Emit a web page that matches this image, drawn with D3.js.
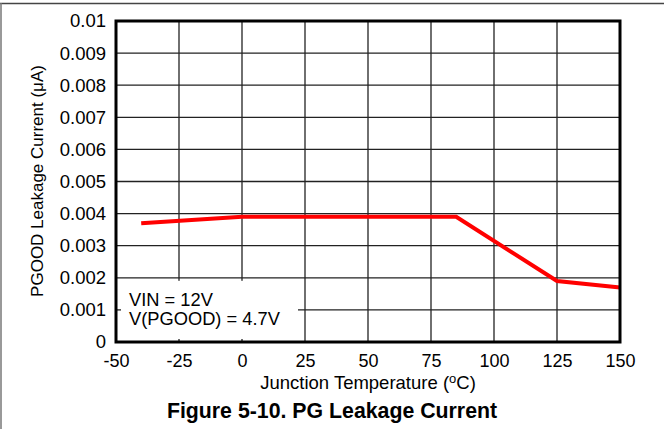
<!DOCTYPE html>
<html>
<head>
<meta charset="utf-8">
<script src="https://d3js.org/d3.v7.min.js"></script>
<style>
	body { margin: 0; padding: 0; background: #fff; }
	text { font-family: "Liberation Sans", Arial, sans-serif; fill: #000; }
	.grid line { stroke: #222; stroke-width: 1.3; }
</style>
</head>
<body>
<div id="content"></div>
<script>
// chart data
var temps = [-40, 0, 85, 125, 150];
var leakage = [0.0037, 0.0039, 0.0039, 0.0019, 0.0017];
var xTicks = [-50, -25, 0, 25, 50, 75, 100, 125, 150];
var yTicks = [0, 0.001, 0.002, 0.003, 0.004, 0.005, 0.006, 0.007, 0.008, 0.009, 0.01];
var yLabels = ['0', '0.001', '0.002', '0.003', '0.004', '0.005', '0.006', '0.007', '0.008', '0.009', '0.01'];
var notes = ['VIN = 12V', 'V(PGOOD) = 4.7V'];

var w = 664, h = 429;
var m = { left: 116, right: 620, top: 21, bottom: 342 };

var svg = d3.select('#content')
	.append('svg')
	.attr('width', w)
	.attr('height', h);

// outer frame (top and left only)
svg.append('line').attr('x1', 0).attr('y1', 3.5).attr('x2', w).attr('y2', 3.5)
	.attr('stroke', '#444').attr('stroke-width', 1.5);
svg.append('line').attr('x1', 1).attr('y1', 3).attr('x2', 1).attr('y2', h)
	.attr('stroke', '#777').attr('stroke-width', 1.5);

var x = d3.scaleLinear().domain([-50, 150]).range([m.left, m.right]);
var y = d3.scaleLinear().domain([0, 0.01]).range([m.bottom, m.top]);

// grid lines
var grid = svg.append('g').attr('class', 'grid');
grid.selectAll('.vx').data(xTicks.slice(1, -1)).enter().append('line')
	.attr('x1', d => x(d)).attr('x2', d => x(d))
	.attr('y1', m.top).attr('y2', m.bottom);
grid.selectAll('.hy').data(yTicks.slice(1, -1)).enter().append('line')
	.attr('x1', m.left).attr('x2', m.right)
	.attr('y1', d => y(d)).attr('y2', d => y(d));

// white note box over the grid, small ticks left on the edges
svg.append('rect')
	.attr('x', m.left + 1).attr('y', y(0.002) + 3)
	.attr('width', 181).attr('height', m.bottom - y(0.002) - 6)
	.attr('fill', '#fff');
svg.append('line')
	.attr('x1', m.left).attr('x2', m.left + 5)
	.attr('y1', y(0.001)).attr('y2', y(0.001))
	.attr('stroke', '#222').attr('stroke-width', 1.3);

var note = svg.append('text')
	.attr('x', 129).attr('y', 306)
	.style('font-size', '18.3px');
note.selectAll('tspan').data(notes).enter().append('tspan')
	.attr('x', 129).attr('dy', (d, i) => i ? 19 : 0)
	.text(d => d);

// data line
var line = d3.line().x((d, i) => x(temps[i])).y(d => y(d));
svg.append('path')
	.datum(leakage)
	.attr('d', line)
	.attr('fill', 'none')
	.attr('stroke', '#ff0000')
	.attr('stroke-width', 4);

// plot frame
svg.append('rect')
	.attr('x', m.left).attr('y', m.top)
	.attr('width', m.right - m.left).attr('height', m.bottom - m.top)
	.attr('fill', 'none').attr('stroke', '#000').attr('stroke-width', 3);

// tick labels
var xAxis = d3.axisBottom(x).tickValues(xTicks).tickSize(0).tickPadding(12)
	.tickFormat(d => d);
svg.append('g').attr('transform', 'translate(0,' + m.bottom + ')').call(xAxis)
	.call(g => g.select('.domain').remove())
	.selectAll('text').style('font-size', '18px');

var yAxis = d3.axisLeft(y).tickValues(yTicks).tickSize(0).tickPadding(10)
	.tickFormat((d, i) => yLabels[i]);
svg.append('g').attr('transform', 'translate(' + m.left + ',0)').call(yAxis)
	.call(g => g.select('.domain').remove())
	.selectAll('text').style('font-size', '18.5px');

// axis titles
var xt = svg.append('text')
	.attr('x', 368).attr('y', 389)
	.attr('text-anchor', 'middle')
	.style('font-size', '18.5px');
xt.append('tspan').text('Junction Temperature (');
xt.append('tspan').attr('dy', -6).style('font-size', '13px').text('o');
xt.append('tspan').attr('dy', 6).text('C)');

var yt = svg.append('text')
	.attr('transform', 'translate(43,181) rotate(-90)')
	.attr('text-anchor', 'middle')
	.style('font-size', '17px');
yt.append('tspan').text('PGOOD Leakage Current (\u03bcA)');

svg.append('text')
	.attr('x', 332).attr('y', 418)
	.attr('text-anchor', 'middle')
	.style('font-size', '21.3px')
	.style('font-weight', 'bold')
	.text('Figure 5-10. PG Leakage Current');
</script>
</body>
</html>
